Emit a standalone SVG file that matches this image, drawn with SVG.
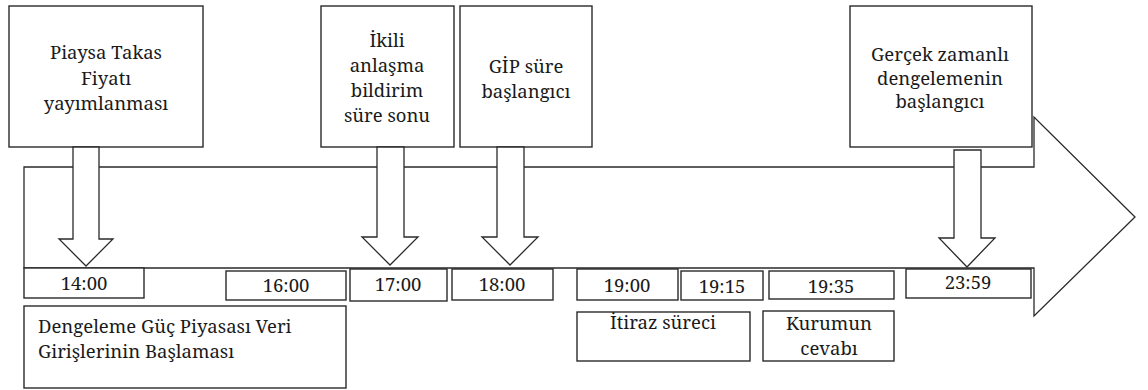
<svg xmlns="http://www.w3.org/2000/svg" width="1148" height="390" viewBox="0 0 1148 390">
<defs>
<style>
.b{fill:#fff;stroke:#2a2a2a;stroke-width:1.4}
.c{fill:#fff;stroke:#2a2a2a;stroke-width:1.3}
.m{text-anchor:middle}
</style>
</defs>
<rect width="1148" height="390" fill="#fff"/>
<g id="timeline">
<polygon class="c" points="24,167 1034,167 1034,117 1135,217 1034,316 1034,268 24,268"/>
</g>
<g font-family="Noto Serif, serif" font-size="18.5" fill="#1a1a1a">
<g id="box-ptf"><rect class="b" x="9" y="6" width="194" height="141"/>
<text class="m" x="106" y="59">Piaysa Takas</text><text class="m" x="106" y="85">Fiyatı</text><text class="m" x="106" y="110">yayımlanması</text></g>
<g id="box-ikili"><rect class="b" x="321" y="6" width="133" height="141"/>
<text class="m" x="387" y="47">İkili</text><text class="m" x="387" y="72">anlaşma</text><text class="m" x="387" y="97">bildirim</text><text class="m" x="387" y="122">süre sonu</text></g>
<g id="box-gip"><rect class="b" x="460" y="6" width="132" height="141"/>
<text class="m" x="526" y="73">GİP süre</text><text class="m" x="526" y="98">başlangıcı</text></g>
<g id="box-gercek"><rect class="b" x="850" y="6" width="182" height="141"/>
<text class="m" x="940" y="61">Gerçek zamanlı</text><text class="m" x="940" y="85">dengelemenin</text><text class="m" x="940" y="108">başlangıcı</text></g>
<g id="connectors">
<polygon class="c" points="73,147 99,147 99,239 113,239 86,266 59,239 73,239"/>
<polygon class="c" points="377,147 404,147 404,237 418,237 390,265 362,237 377,237"/>
<polygon class="c" points="497,147 524,147 524,237 538,237 510,265 482,237 497,237"/>
<polygon class="c" points="954,150 981,150 981,238 995,238 967,267 939,238 954,238"/>
</g>
<g id="t1400"><rect class="b" x="24" y="268" width="120" height="30"/><text class="m" x="84" y="290">14:00</text></g>
<g id="t1600"><rect class="b" x="226" y="271" width="120" height="29"/><text class="m" x="286" y="292">16:00</text></g>
<g id="t1700"><rect class="b" x="350" y="269" width="97" height="32"/><text class="m" x="398" y="291">17:00</text></g>
<g id="t1800"><rect class="b" x="452" y="269" width="101" height="31"/><text class="m" x="502" y="291">18:00</text></g>
<g id="t1900"><rect class="b" x="577" y="269" width="101" height="31"/><text class="m" x="627" y="292">19:00</text></g>
<g id="t1915"><rect class="b" x="681" y="271" width="82" height="29"/><text class="m" x="722" y="293">19:15</text></g>
<g id="t1935"><rect class="b" x="769" y="271" width="125" height="28"/><text class="m" x="831" y="293">19:35</text></g>
<g id="t2359"><rect class="b" x="906" y="269" width="125" height="29"/><text class="m" x="968" y="289">23:59</text></g>
<g id="dengeleme"><rect class="b" x="24" y="306" width="322" height="82"/>
<text x="38" y="333">Dengeleme Güç Piyasası Veri</text><text x="38" y="358">Girişlerinin Başlaması</text></g>
<g id="itiraz"><rect class="b" x="577" y="312" width="173" height="49"/><text class="m" x="663" y="329">İtiraz süreci</text></g>
<g id="kurum"><rect class="b" x="763" y="311" width="131" height="50"/>
<text class="m" x="829" y="330">Kurumun</text><text class="m" x="829" y="355">cevabı</text></g>
</g>
</svg>
